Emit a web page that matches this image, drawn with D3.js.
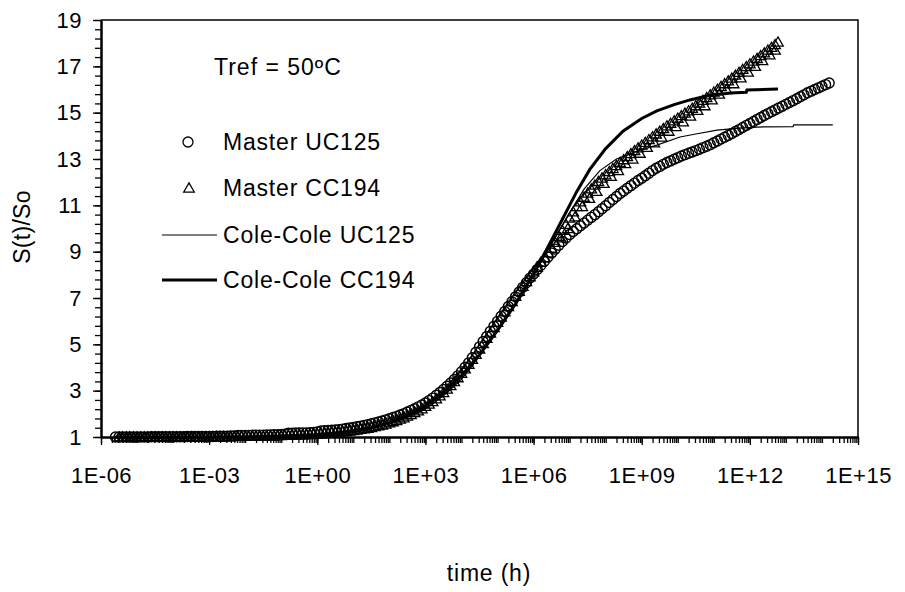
<!DOCTYPE html>
<html>
<head>
<meta charset="utf-8">
<script src="https://cdn.jsdelivr.net/npm/d3@7"></script>
<style>
  body { margin: 0; background: #fff; }
  svg text { font-family: "Liberation Sans", Arial, sans-serif; fill: #000; font-size: 23px; letter-spacing: 0.8px; }
  svg .tick text { font-size: 22px; letter-spacing: 0.5px; }
</style>
</head>
<body>
<div id="chart"></div>
<script>
// values: [log10(time h), S(t)/So]
const masterUC125 = [
  [-5.6,1.00],[-5.5,1.00],[-5.4,1.00],[-5.3,1.00],[-5.2,1.00],[-5.1,1.00],[-5.0,1.00],[-4.9,1.00],
  [-4.8,1.00],[-4.7,1.00],[-4.6,1.01],[-4.5,1.01],[-4.4,1.01],[-4.3,1.01],[-4.2,1.01],[-4.1,1.01],
  [-4.0,1.01],[-3.9,1.01],[-3.8,1.01],[-3.7,1.01],[-3.6,1.02],[-3.5,1.02],[-3.4,1.02],[-3.3,1.02],
  [-3.2,1.02],[-3.1,1.02],[-3.0,1.02],[-2.9,1.02],[-2.8,1.03],[-2.7,1.03],[-2.6,1.03],[-2.5,1.03],
  [-2.4,1.04],[-2.3,1.04],[-2.2,1.07],[-2.1,1.07],[-2.0,1.07],[-1.9,1.07],[-1.8,1.08],[-1.7,1.08],
  [-1.6,1.08],[-1.5,1.08],[-1.4,1.09],[-1.3,1.09],[-1.2,1.10],[-1.1,1.10],[-1.0,1.11],[-0.9,1.12],
  [-0.8,1.16],[-0.7,1.16],[-0.6,1.17],[-0.5,1.17],[-0.4,1.18],[-0.3,1.18],[-0.2,1.19],[-0.1,1.20],
  [0.0,1.22],[0.1,1.26],[0.2,1.27],[0.3,1.28],[0.4,1.29],[0.5,1.30],[0.6,1.32],[0.7,1.34],
  [0.8,1.37],[0.9,1.39],[1.0,1.41],[1.1,1.44],[1.2,1.47],[1.3,1.50],[1.4,1.53],[1.5,1.57],
  [1.6,1.61],[1.7,1.65],[1.8,1.69],[1.9,1.74],[2.0,1.79],[2.1,1.84],[2.2,1.89],[2.3,1.95],
  [2.4,2.01],[2.5,2.08],[2.6,2.15],[2.7,2.22],[2.8,2.30],[2.9,2.38],[3.0,2.47],[3.1,2.57],
  [3.2,2.68],[3.3,2.80],[3.4,2.92],[3.5,3.05],[3.6,3.19],[3.7,3.33],[3.8,3.48],[3.9,3.64],
  [4.0,3.82],[4.1,4.01],[4.2,4.20],[4.3,4.42],[4.4,4.66],[4.5,4.89],[4.6,5.12],[4.7,5.34],
  [4.8,5.56],[4.9,5.78],[5.0,5.99],[5.1,6.21],[5.2,6.42],[5.3,6.63],[5.4,6.84],[5.5,7.05],
  [5.6,7.26],[5.7,7.46],[5.8,7.66],[5.9,7.86],[6.0,8.04],[6.1,8.23],[6.2,8.41],[6.3,8.59],
  [6.4,8.77],[6.5,8.94],[6.6,9.11],[6.7,9.28],[6.8,9.44],[6.9,9.59],[7.0,9.74],[7.1,9.87],
  [7.2,9.99],[7.3,10.12],[7.4,10.24],[7.5,10.36],[7.6,10.48],[7.7,10.60],[7.8,10.72],[7.9,10.85],
  [8.0,10.98],[8.1,11.12],[8.2,11.25],[8.3,11.38],[8.4,11.51],[8.5,11.62],[8.6,11.74],[8.7,11.85],
  [8.8,11.96],[8.9,12.07],[9.0,12.17],[9.1,12.28],[9.2,12.39],[9.3,12.50],[9.4,12.60],[9.5,12.68],
  [9.6,12.77],[9.7,12.85],[9.8,12.92],[9.9,12.99],[10.0,13.06],[10.1,13.13],[10.2,13.19],[10.3,13.25],
  [10.4,13.30],[10.5,13.36],[10.6,13.42],[10.7,13.49],[10.8,13.55],[10.9,13.62],[11.0,13.70],[11.1,13.78],
  [11.2,13.86],[11.3,13.94],[11.4,14.02],[11.5,14.10],[11.6,14.19],[11.7,14.27],[11.8,14.36],[11.9,14.45],
  [12.0,14.53],[12.1,14.62],[12.2,14.71],[12.3,14.79],[12.4,14.88],[12.5,14.96],[12.6,15.04],[12.7,15.12],
  [12.8,15.20],[12.9,15.28],[13.0,15.36],[13.1,15.44],[13.2,15.52],[13.3,15.60],[13.4,15.69],[13.5,15.77],
  [13.6,15.86],[13.7,15.93],[13.8,16.00],[13.9,16.07],[14.0,16.14],[14.1,16.21],[14.2,16.28]
];

const masterCC194 = [
  [-5.5,1.00],[-5.4,1.00],[-5.3,1.00],[-5.2,1.00],[-5.1,1.00],[-5.0,1.00],[-4.9,1.00],[-4.8,1.00],
  [-4.7,1.00],[-4.6,1.00],[-4.5,1.00],[-4.4,1.00],[-4.3,1.00],[-4.2,1.00],[-4.1,1.00],[-4.0,1.00],
  [-3.9,1.01],[-3.8,1.01],[-3.7,1.01],[-3.6,1.01],[-3.5,1.01],[-3.4,1.01],[-3.3,1.01],[-3.2,1.01],
  [-3.1,1.01],[-3.0,1.01],[-2.9,1.02],[-2.8,1.02],[-2.7,1.02],[-2.6,1.02],[-2.5,1.02],[-2.4,1.02],
  [-2.3,1.03],[-2.2,1.03],[-2.1,1.03],[-2.0,1.03],[-1.9,1.04],[-1.8,1.04],[-1.7,1.04],[-1.6,1.04],
  [-1.5,1.05],[-1.4,1.05],[-1.3,1.05],[-1.2,1.05],[-1.1,1.06],[-1.0,1.06],[-0.9,1.07],[-0.8,1.07],
  [-0.7,1.08],[-0.6,1.08],[-0.5,1.09],[-0.4,1.09],[-0.3,1.10],[-0.2,1.11],[-0.1,1.12],[0.0,1.13],
  [0.1,1.14],[0.2,1.15],[0.3,1.16],[0.4,1.18],[0.5,1.19],[0.6,1.21],[0.7,1.22],[0.8,1.24],
  [0.9,1.26],[1.0,1.28],[1.1,1.30],[1.2,1.33],[1.3,1.35],[1.4,1.38],[1.5,1.41],[1.6,1.45],
  [1.7,1.48],[1.8,1.52],[1.9,1.56],[2.0,1.61],[2.1,1.66],[2.2,1.71],[2.3,1.77],[2.4,1.83],
  [2.5,1.90],[2.6,1.97],[2.7,2.05],[2.8,2.13],[2.9,2.22],[3.0,2.32],[3.1,2.42],[3.2,2.53],
  [3.3,2.65],[3.4,2.78],[3.5,2.92],[3.6,3.07],[3.7,3.22],[3.8,3.39],[3.9,3.56],[4.0,3.75],
  [4.1,3.94],[4.2,4.14],[4.3,4.35],[4.4,4.57],[4.5,4.80],[4.6,5.03],[4.7,5.26],[4.8,5.49],
  [4.9,5.72],[5.0,5.95],[5.1,6.18],[5.2,6.40],[5.3,6.63],[5.4,6.85],[5.5,7.07],[5.6,7.29],
  [5.7,7.50],[5.8,7.71],[5.9,7.92],[6.0,8.13],[6.1,8.33],[6.2,8.54],[6.3,8.74],[6.4,8.95],
  [6.5,9.15],[6.6,9.40],[6.7,9.66],[6.8,9.92],[6.9,10.18],[7.0,10.45],[7.1,10.72],[7.2,10.95],
  [7.3,11.15],[7.4,11.35],[7.5,11.53],[7.6,11.71],[7.7,11.87],[7.8,12.03],[7.9,12.18],[8.0,12.32],
  [8.1,12.46],[8.2,12.59],[8.3,12.72],[8.4,12.85],[8.5,12.97],[8.6,13.10],[8.7,13.23],[8.8,13.36],
  [8.9,13.48],[9.0,13.60],[9.1,13.72],[9.2,13.84],[9.3,13.96],[9.4,14.08],[9.5,14.20],[9.6,14.31],
  [9.7,14.43],[9.8,14.54],[9.9,14.65],[10.0,14.76],[10.1,14.87],[10.2,14.98],[10.3,15.08],[10.4,15.19],
  [10.5,15.30],[10.6,15.41],[10.7,15.53],[10.8,15.65],[10.9,15.77],[11.0,15.89],[11.1,16.01],[11.2,16.13],
  [11.3,16.25],[11.4,16.37],[11.5,16.49],[11.6,16.62],[11.7,16.74],[11.8,16.87],[11.9,16.99],[12.0,17.11],
  [12.1,17.23],[12.2,17.34],[12.3,17.46],[12.4,17.58],[12.5,17.70],[12.6,17.82],[12.7,17.94],[12.78,18.05],
  // overlapping segment, slightly lower
  [6.75,9.60],[6.95,10.00],[7.15,10.50],[7.35,10.95],[7.55,11.30],[7.75,11.60],[7.95,11.95],[8.15,12.25],
  [8.35,12.50],[8.55,12.80],[8.75,13.00],[8.95,13.25],[9.15,13.50],[9.35,13.70],[9.55,13.95],[9.75,14.20],
  [9.95,14.40],[10.15,14.60],[10.35,14.85],[10.55,15.10],[10.75,15.30],[10.95,15.55],[11.15,15.80],
  [11.35,16.00],[11.55,16.25],[11.75,16.50],[11.95,16.75],[12.15,17.00],[12.35,17.25],[12.55,17.50],
  [12.70,17.70]
];

const coleUC125 = [
  [-5.6,1.00],[-4.0,1.00],[-2.0,1.01],[-1.0,1.04],[0.0,1.10],[0.5,1.16],[1.0,1.26],[1.5,1.41],
  [2.0,1.63],[2.5,1.95],[3.0,2.38],[3.5,2.95],[4.0,3.68],[4.5,4.58],[5.0,5.62],[5.5,6.75],
  [6.0,8.00],[6.45,9.20],[6.93,10.50],[7.4,11.70],[7.84,12.50],[8.3,13.00],[8.9,13.35],
  [9.42,13.60],[10.06,13.95],[10.5,14.08],[11.09,14.25],[11.7,14.33],[12.2,14.38],
  [13.2,14.40],[13.22,14.47],[14.3,14.47]
];

const coleCC194 = [
  [-5.6,1.00],[-4.0,1.00],[-2.0,1.01],[-1.0,1.04],[0.0,1.10],[0.5,1.16],[1.0,1.26],[1.5,1.40],
  [2.0,1.62],[2.5,1.93],[3.0,2.35],[3.5,2.92],[4.0,3.65],[4.5,4.55],[5.0,5.60],[5.5,6.75],
  [6.0,8.05],[6.45,9.35],[6.9,10.70],[7.2,11.60],[7.56,12.55],[8.0,13.45],[8.48,14.20],
  [9.0,14.75],[9.42,15.08],[9.9,15.35],[10.34,15.55],[10.8,15.72],[11.45,15.85],[11.9,15.88],
  [11.92,15.98],[12.78,16.02]
];

const xTickExps = [-6, -3, 0, 3, 6, 9, 12, 15];
const yTicks = [1, 3, 5, 7, 9, 11, 13, 15, 17, 19];
const legendNames = ["Master UC125", "Master CC194", "Cole-Cole UC125", "Cole-Cole CC194"];

const width = 905, height = 592;
const margin = { top: 20, right: 47, bottom: 155, left: 101 };

const svg = d3.select("#chart").append("svg")
  .attr("width", width)
  .attr("height", height);

const x = d3.scaleLog()
  .domain([1e-6, 1e15])
  .range([margin.left, width - margin.right]);

const y = d3.scaleLinear()
  .domain([1, 19])
  .range([height - margin.bottom, margin.top]);

const px = d => x(Math.pow(10, d[0]));
const py = d => y(d[1]);

const fmtExp = e => "1E" + (e < 0 ? "-" : "+") + String(Math.abs(e)).padStart(2, "0");

// minor tick positions: 1..9 in every decade, and every 0.4 on y
let xMinor = [];
for (let e = -6; e < 15; e++) {
  for (let k = 1; k <= 9; k++) xMinor.push(k * Math.pow(10, e));
}
xMinor.push(1e15);
const yMinor = d3.range(1, 19.001, 0.4);

// frame (top and right)
svg.append("path")
  .attr("d", `M${x.range()[0]},${y(19)}H${x.range()[1]}V${y(1)}`)
  .attr("fill", "none")
  .attr("stroke", "#000")
  .attr("stroke-width", 1.5);

// x axis
const xAxisG = svg.append("g").attr("transform", `translate(0,${y(1)})`);
xAxisG.call(d3.axisBottom(x).tickValues(xMinor).tickFormat("").tickSize(6).tickSizeOuter(0));
xAxisG.append("g").call(d3.axisBottom(x)
  .tickValues(xTickExps.map(e => Math.pow(10, e)))
  .tickFormat((d, i) => fmtExp(xTickExps[i]))
  .tickSize(8).tickPadding(22).tickSizeOuter(0));
xAxisG.selectAll("path.domain").attr("stroke-width", 2);

// y axis
const yAxisG = svg.append("g").attr("transform", `translate(${x.range()[0]},0)`);
yAxisG.call(d3.axisLeft(y).tickValues(yMinor).tickFormat("").tickSize(6).tickSizeOuter(0));
yAxisG.append("g").call(d3.axisLeft(y)
  .tickValues(yTicks)
  .tickSize(8).tickPadding(11).tickSizeOuter(0));
yAxisG.selectAll("path.domain").attr("stroke-width", 2);
svg.selectAll("g[font-size]").attr("font-size", null).attr("font-family", null);
svg.selectAll(".tick line").attr("stroke-width", 1.3);

// markers and lines
const tri = d3.symbol().type(d3.symbolTriangle).size(48);

svg.append("g").selectAll("circle")
  .data(masterUC125)
  .join("circle")
  .attr("cx", px).attr("cy", py).attr("r", 5)
  .attr("fill", "none").attr("stroke", "#000").attr("stroke-width", 1.4);

svg.append("g").selectAll("path")
  .data(masterCC194)
  .join("path")
  .attr("d", tri)
  .attr("transform", d => `translate(${px(d)},${py(d) + 1})`)
  .attr("fill", "none").attr("stroke", "#000").attr("stroke-width", 1.3);

const line = d3.line().x(px).y(py);

svg.append("path").datum(coleUC125)
  .attr("d", line).attr("fill", "none").attr("stroke", "#000").attr("stroke-width", 1.2);

svg.append("path").datum(coleCC194)
  .attr("d", line).attr("fill", "none").attr("stroke", "#000").attr("stroke-width", 3);

// legend
svg.append("text").attr("x", 214).attr("y", 75).style("letter-spacing", "1px").text("Tref = 50ºC");

const legY = [142, 188, 235, 280];
const leg = svg.append("g");
leg.append("circle").attr("cx", 188).attr("cy", legY[0]).attr("r", 5)
  .attr("fill", "none").attr("stroke", "#000").attr("stroke-width", 1.3);
leg.append("path").attr("d", tri).attr("transform", `translate(189,${legY[1] + 1})`)
  .attr("fill", "none").attr("stroke", "#000").attr("stroke-width", 1.3);
leg.append("line").attr("x1", 162).attr("x2", 217).attr("y1", legY[2]).attr("y2", legY[2])
  .attr("stroke", "#000").attr("stroke-width", 1.2);
leg.append("line").attr("x1", 162).attr("x2", 217).attr("y1", legY[3]).attr("y2", legY[3])
  .attr("stroke", "#000").attr("stroke-width", 3);
leg.selectAll("text")
  .data(legendNames)
  .join("text")
  .attr("x", 223)
  .attr("y", (d, i) => legY[i] + 8)
  .text(d => d);

// axis titles
svg.append("text")
  .attr("transform", `translate(30,227) rotate(-90)`)
  .attr("text-anchor", "middle")
  .style("letter-spacing", "0.3px")
  .text("S(t)/So");

svg.append("text")
  .attr("x", 489).attr("y", 581)
  .attr("text-anchor", "middle")
  .text("time (h)");
</script>
</body>
</html>
